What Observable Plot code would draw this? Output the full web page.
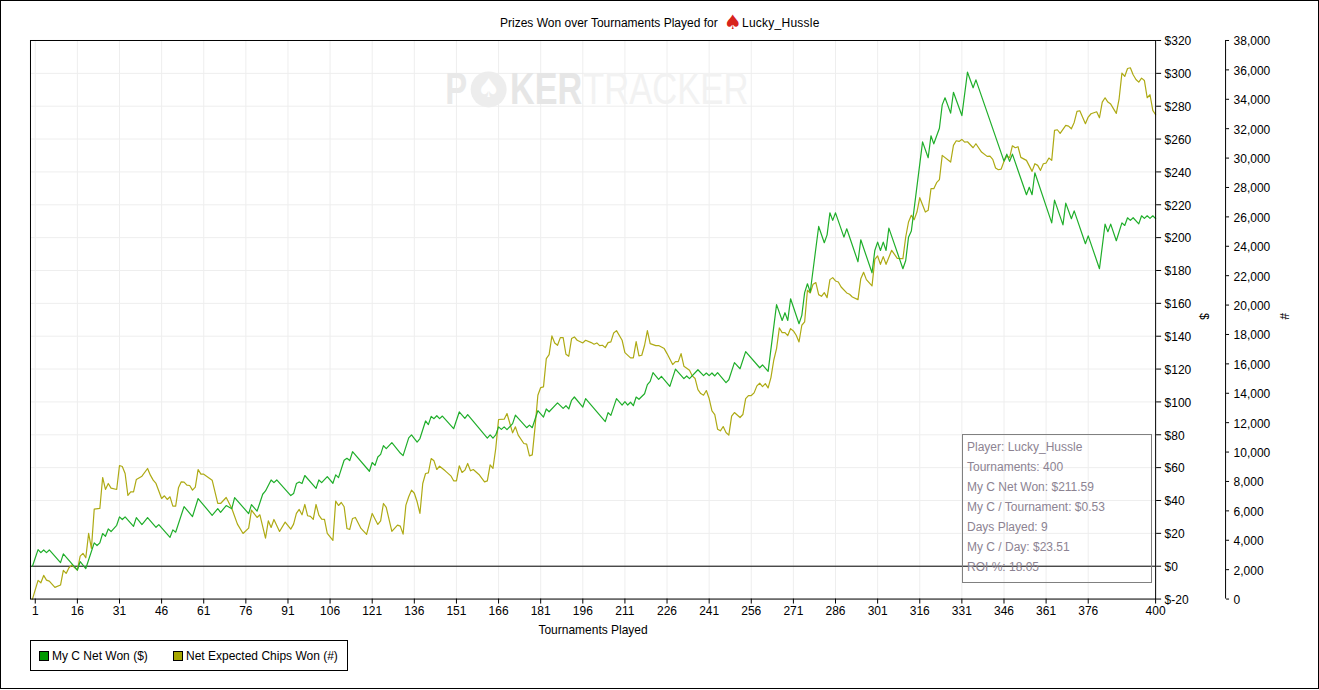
<!DOCTYPE html>
<html>
<head>
<meta charset="utf-8">
<script src="https://cdn.jsdelivr.net/npm/d3@7"></script>
<script src="https://cdn.jsdelivr.net/npm/@observablehq/plot@0.6"></script>
<style>
html,body{margin:0;padding:0;background:#fff;}
#page{position:relative;width:1319px;height:689px;box-sizing:border-box;border:1px solid #000;overflow:hidden;font-family:"Liberation Sans",Arial,sans-serif;font-size:12px;color:#000;}
#title{position:absolute;left:0;right:0;top:0;height:30px;}
#title span{position:absolute;top:15px;white-space:nowrap;}
#title b{position:absolute;left:723px;top:9px;color:#d8231c;font-weight:normal;font-size:20px;line-height:24px;font-family:"DejaVu Sans";}
#chart{position:absolute;left:-1px;top:29px;}
#legend{position:absolute;left:29px;top:639px;width:318px;height:31px;box-sizing:border-box;border:1px solid #000;}
#legend i{position:absolute;top:10px;width:8px;height:8px;border:1px solid #000;}
#legend span{position:absolute;top:8px;white-space:nowrap;}
#info{position:absolute;left:961px;top:433px;width:190px;height:149px;box-sizing:border-box;border:1.5px solid #808080;color:#8c8392;padding:2px 0 0 4px;}
#info div{height:20px;line-height:20px;white-space:nowrap;}
</style>
</head>
<body>
<div id="page">
  <div id="title"></div>
  <div id="chart"></div>
  <div id="legend"></div>
  <div id="info"></div>
</div>
<script>
const chartTitle = "Prizes Won over Tournaments Played for";
const playerName = "Lucky_Hussle";
const xLabel = "Tournaments Played";
const seriesNames = ["My C Net Won ($)", "Net Expected Chips Won (#)"];
const infoLines = ["Player: Lucky_Hussle","Tournaments: 400","My C Net Won: $211.59","My C / Tournament: $0.53","Days Played: 9","My C / Day: $23.51","ROI %: 18.05"];

const xTicks = [1,16,31,46,61,76,91,106,121,136,151,166,181,196,211,226,241,256,271,286,301,316,331,346,361,376,400];
const xGrid = xTicks.slice(0,-1);
const moneyTicks = d3.range(-20,321,20);
const chipTicks = d3.range(0,38001,2000);

const greenIdx = [0,2,3,4,5,6,10,11,16,17,19,22,23,24,25,26,27,28,30,31,32,33,36,37,39,41,44,45,49,50,51,54,57,59,64,66,67,69,71,72,77,78,80,82,83,85,86,87,92,93,94,95,96,97,101,102,103,105,107,108,109,111,112,113,114,120,121,122,123,124,125,126,128,131,132,134,135,137,138,140,141,142,143,144,145,146,150,152,154,155,162,163,164,165,166,167,168,169,171,172,176,177,178,180,182,183,184,187,189,190,191,192,193,196,197,204,205,206,208,210,211,212,213,214,215,216,218,219,220,221,223,224,227,229,232,233,234,237,239,240,241,242,243,244,247,248,250,252,254,259,260,262,265,267,268,269,270,273,274,275,276,277,280,282,283,284,285,286,289,290,294,295,299,300,301,302,303,304,305,310,311,312,313,317,319,320,321,323,324,325,327,328,331,333,335,336,346,347,348,349,354,355,356,357,363,364,367,368,370,371,375,376,380,382,383,384,386,388,389,390,391,392,394,395,396,397,398,399,400];
const greenVal = [0,10.1,8.3,9.9,8.3,9.9,2.2,7.5,-2.4,2.8,-1.4,14.2,12.6,14.2,19.9,18.2,22.7,21.1,24.9,30,28.4,30,24.3,29.6,25.3,29.6,23.7,25.3,17.6,22.1,20.7,36.3,30.2,41.2,31,35,32.8,36.9,35,41.8,32,37.5,33.5,43.8,45.8,52.5,50.9,52.5,43,44.2,50.3,51.3,50.3,55.2,47.4,52.5,50.9,54.5,50.5,55.6,53.9,64.5,65.7,64.3,69.7,57.8,63.1,61.4,66.5,68.1,73.4,71.6,75.2,68.9,67.3,78.1,79.9,75.6,77.7,88.4,86.2,91.2,89.8,91.6,89.8,91.4,83.7,93.9,90,92.3,78,79.9,77.9,79.9,84.8,83.3,84.8,83.1,86.8,92,84.3,85.9,84.3,94.7,90.8,95.7,94,99.4,96.1,97.7,95.7,101,103,96.9,102,88,93.5,91.8,102,98.1,100.2,98.1,99.8,97.7,103,101.6,105,110.5,112.5,117.8,113.7,115.6,109.5,120,114.2,115.8,114.2,119.6,116,117.6,116,117.6,115.8,117.8,111.7,113.5,123.9,120.2,130.6,120.8,122.5,118.6,159.2,149.6,154.3,149.6,162.8,147.6,152.7,166.5,171.9,166.9,206.8,196.9,201.7,215.1,210.5,215.1,200.3,205.4,185.3,198.7,178.6,192.2,197.3,192.2,197.3,192.2,205.8,181.1,186.1,200.3,204,258.3,248.6,262,257.1,266.6,280.8,285.1,275.8,288.5,274.3,300.7,291.2,296,246.6,250.8,246.4,250.8,226.1,230.7,226.1,239.5,209,222.8,207.8,221,211.5,216.3,196.3,201.1,181.1,208.2,203.6,208.2,198.1,209,207.4,212.1,210.5,212.1,208.4,213.3,211.7,213.3,211.7,213.3,211.59];

const oliveIdx = [0,2,3,4,5,6,8,10,11,12,13,14,16,17,18,19,20,21,22,24,25,26,27,28,30,31,32,33,34,35,36,37,39,41,42,43,44,46,47,48,49,50,51,52,53,54,55,56,57,58,59,60,61,62,64,66,67,69,71,73,75,77,78,80,81,83,84,85,86,88,90,92,93,94,95,96,97,98,99,100,101,102,103,104,105,107,108,109,110,111,112,113,114,115,117,119,121,123,124,125,126,128,130,131,132,133,134,135,136,137,138,139,140,141,142,143,144,145,147,149,150,151,152,153,154,155,156,157,159,161,162,163,164,165,166,168,169,171,172,173,175,176,177,178,179,180,181,182,183,184,185,186,187,188,189,190,191,192,193,194,196,197,199,200,201,202,203,204,205,206,207,208,210,211,213,214,215,216,217,218,219,220,222,223,225,226,228,229,230,231,232,234,235,236,237,238,239,240,241,242,243,244,245,246,247,248,249,250,252,253,254,255,256,257,258,259,260,261,262,263,264,265,266,267,268,269,270,271,272,273,274,275,276,277,278,279,280,281,282,283,284,285,286,287,288,290,291,292,294,295,296,297,299,300,301,302,303,304,306,308,310,311,312,313,314,315,316,318,319,320,321,322,323,324,327,328,329,330,331,332,333,335,336,338,340,341,342,343,344,345,346,347,348,349,350,351,352,354,356,357,358,359,360,361,362,363,364,365,366,368,369,370,371,372,373,375,376,377,379,380,381,382,383,384,386,387,388,389,390,391,392,393,394,395,396,397,398,399,400];
const oliveVal = [0,1269,1110,1609,1292,1224,793,952,1949,1745,2130,2311,1971,2923,3104,2810,4464,3444,6118,6164,8271,7455,7863,7546,7455,9087,9019,8543,7047,7297,7297,8135,8362,8883,8430,8090,7863,6843,7025,6775,6957,6322,6322,7568,7976,7954,7750,7727,7410,7614,8815,8498,8498,8362,8090,6503,6503,6911,6164,5099,4464,4827,6050,5552,5733,4147,5325,4872,5416,4600,5234,4759,5099,5824,6095,5733,6435,5665,5620,5416,6435,5710,5438,5416,4464,3988,6662,6367,6571,6277,4804,4736,5484,5552,4804,4396,5824,5076,5325,6503,6232,4600,5030,4962,4419,6390,6957,7410,7200,6617,5824,7863,8543,8588,9563,9404,8815,9041,8724,8384,8044,8044,9064,8611,8770,9223,8724,8815,8475,7976,8044,9132,8883,10242,12214,12236,12622,11307,11715,11149,10582,10537,9744,9812,11715,13868,14389,14434,16361,16632,17901,17425,17267,17788,17788,16655,16519,17720,17833,17607,17425,17607,17448,17335,17425,17244,17267,17108,17448,17493,18105,18264,17607,16768,16406,16406,17516,16542,16587,17267,18264,17380,17244,17244,17040,16700,15953,16156,16156,16700,15840,15568,15182,15001,14253,13981,13868,14185,13641,12803,12554,11557,11443,11738,11330,11149,12440,12690,12350,12554,13641,13845,13845,14026,14502,14684,14457,14661,14367,15069,16247,17040,18445,18128,18128,17924,18400,18241,17946,17494,18627,18853,21006,20825,21414,21527,20711,20598,20847,20507,21731,21867,21640,21572,21232,20825,20734,20553,20371,21799,22229,21731,21300,23113,23340,22773,23294,22773,23725,23181,23158,24631,25651,26104,25810,26331,27305,26331,26444,27917,27917,28325,28529,30183,29730,30863,31180,31135,31271,31089,31112,30704,30976,30410,30115,30138,29911,29322,29208,29254,29775,30138,30025,30840,30704,30772,30047,29843,29095,29616,29503,29163,29616,29662,30002,29843,31883,31928,31679,32223,32177,31996,32427,33174,33220,32336,32789,33016,33152,32744,33809,34104,33809,33673,33038,34035,35780,35553,36097,36143,35667,35350,35168,35440,35281,34104,34308,33242,32948];

const green = greenIdx.map((t,i)=>({t, v:greenVal[i]}));
const olive = oliveIdx.map((t,i)=>({t, c:oliveVal[i]}));

// second (chips) axis shares the frame with the money axis
const chipToMoney = c => -20 + c/38000*340;
const moneyToChip = m => Math.round((m+20)/340*38000);

const FONT = '"Liberation Sans",Arial,sans-serif';

const chart = Plot.plot({
  width:1319, height:610,
  marginTop:10, marginBottom:41, marginLeft:30, marginRight:163,
  style:{fontFamily:FONT, fontSize:"12px", background:"transparent", color:"#000", overflow:"visible"},
  x:{domain:[-0.7,400], axis:null},
  y:{domain:[-20,320], axis:null},
  marks:[
    Plot.gridX(xGrid,{stroke:"#eeeeee",strokeOpacity:1,strokeWidth:1}),
    Plot.gridY(moneyTicks,{stroke:"#eeeeee",strokeOpacity:1,strokeWidth:1}),
    Plot.text(["P"],{className:"wm-p",frameAnchor:"top-left",dx:415,dy:32,lineAnchor:"top",fontSize:45,fontWeight:"bold",fill:"#e9e9e9"}),
    Plot.dot([0],{frameAnchor:"top-left",dx:458.5,dy:49,r:18,fill:"#ededed",stroke:"none"}),
    Plot.text(["♠"],{frameAnchor:"top-left",dx:458.5,dy:38,lineAnchor:"top",fontSize:26,fontFamily:"DejaVu Sans",fill:"#ffffff",textAnchor:"middle"}),
    Plot.text(["KER"],{className:"wm-k",frameAnchor:"top-left",dx:480,dy:32,lineAnchor:"top",fontSize:45,fontWeight:"bold",fill:"#e6e6e6"}),
    Plot.text(["TRACKER"],{className:"wm-t",frameAnchor:"top-left",dx:553,dy:32,lineAnchor:"top",fontSize:45,fill:"#f2f2f2"}),
    Plot.ruleY([0],{stroke:"#000",strokeWidth:1}),
    Plot.line(olive,{x:"t",y:d=>chipToMoney(d.c),stroke:"#aeaa14",strokeWidth:1.2,curve:"linear"}),
    Plot.line(green,{x:"t",y:"v",stroke:"#1fae2a",strokeWidth:1.2,curve:"linear"}),
    Plot.frame({stroke:"#000",strokeWidth:1}),
    Plot.axisX(xTicks,{anchor:"bottom",tickSize:5,tickPadding:2,label:null,tickFormat:d=>String(d),fontSize:12}),
    Plot.text([xLabel],{frameAnchor:"bottom",dy:35,fontSize:12}),
    Plot.axisY(moneyTicks,{anchor:"right",tickSize:5,text:null,label:null}),
    Plot.axisY(moneyTicks,{anchor:"right",tickSize:0,tickPadding:9,dy:1,label:null,tickFormat:d=>"$"+d,fontSize:12}),
    Plot.ruleX([400],{y1:-20,y2:320,dx:70,stroke:"#000",strokeWidth:1}),
    Plot.axisY(chipTicks.map(chipToMoney),{anchor:"right",dx:70,tickSize:3,text:null,label:null}),
    Plot.axisY(chipTicks.map(chipToMoney),{anchor:"right",dx:70,dy:1,tickSize:0,tickPadding:8,label:null,tickFormat:m=>d3.format(",")(moneyToChip(m)),fontSize:12}),
    Plot.text(["$"],{frameAnchor:"right",dx:48,rotate:90,fontSize:12}),
    Plot.text(["#"],{frameAnchor:"right",dx:128,rotate:90,fontSize:12})
  ]
});
// squeeze the watermark letters to the condensed logo widths
[[".wm-p text",0.73],[".wm-k text",0.76],[".wm-t text",0.77]].forEach(([sel,sx])=>{
  chart.querySelectorAll(sel).forEach(t=>{t.setAttribute("transform",(t.getAttribute("transform")||"")+" scale("+sx+",1)");});
});
document.getElementById("chart").appendChild(chart);

document.getElementById("title").innerHTML =
  '<span style="left:499px">'+chartTitle+'</span><b>♠</b><span style="left:741px;letter-spacing:.25px">'+playerName+'</span>';

const legend = document.getElementById("legend");
[["#009900",8,21],["#a6a600",142,155]].forEach(([col,sx,tx],i)=>{
  const sw=document.createElement("i"); sw.style.left=sx+"px"; sw.style.background=col; legend.appendChild(sw);
  const tt=document.createElement("span"); tt.style.left=tx+"px"; tt.textContent=seriesNames[i]; legend.appendChild(tt);
});
const info=document.getElementById("info");
infoLines.forEach(s=>{const d=document.createElement("div"); d.textContent=s; info.appendChild(d);});
</script>
</body>
</html>
